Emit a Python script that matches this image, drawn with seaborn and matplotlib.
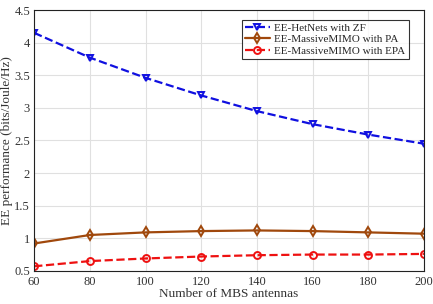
import matplotlib
matplotlib.use("Agg")
import matplotlib.pyplot as plt
import seaborn as sns
import pandas as pd

antennas = [60, 80, 100, 120, 140, 160, 180, 200]
ee_hetnets_zf = [4.15, 3.77, 3.46, 3.19, 2.95, 2.75, 2.59, 2.45]
ee_mimo_pa = [0.92, 1.05, 1.09, 1.11, 1.12, 1.11, 1.09, 1.07]
ee_mimo_epa = [0.57, 0.65, 0.69, 0.72, 0.74, 0.75, 0.75, 0.76]
series_names = ["EE-HetNets with ZF", "EE-MassiveMIMO with PA", "EE-MassiveMIMO with EPA"]

df = pd.DataFrame({
    "N": antennas * 3,
    "EE": ee_hetnets_zf + ee_mimo_pa + ee_mimo_epa,
    "series": [series_names[0]] * 8 + [series_names[1]] * 8 + [series_names[2]] * 8,
})

sns.set_style("whitegrid")
plt.rcParams["font.family"] = ["Liberation Serif", "DejaVu Serif"]

fig = plt.figure(figsize=(4.33, 3.04), dpi=100)
ax = fig.add_axes([0.079, 0.109, 0.900, 0.858])

styles = {
    series_names[0]: dict(color="#1010e0", marker="v", ls="--"),
    series_names[1]: dict(color="#a0480c", marker="d", ls="-"),
    series_names[2]: dict(color="#ee1111", marker="o", ls="--"),
}
for name in series_names:
    st = styles[name]
    sns.lineplot(data=df[df.series == name], x="N", y="EE", ax=ax, label=name,
                 color=st["color"], marker=st["marker"], linestyle=st["ls"],
                 markerfacecolor="none", markeredgecolor=st["color"],
                 markeredgewidth=1.4, markersize=5, linewidth=1.6,
                 dashes=(4, 2.5) if st["ls"] == "--" else "")

ax.set_xlim(60, 200)
ax.set_ylim(0.5, 4.5)
ax.set_xticks(antennas)
ax.set_yticks([0.5, 1, 1.5, 2, 2.5, 3, 3.5, 4, 4.5])
ax.set_yticklabels(["0.5", "1", "1.5", "2", "2.5", "3", "3.5", "4", "4.5"])
ax.grid(True, color="#e0e0e0", linewidth=0.8)
for s in ax.spines.values():
    s.set_color("#222222")
    s.set_linewidth(0.8)
ax.tick_params(labelsize=9, colors="#333333", length=3, direction="in")
ax.tick_params(axis="x", pad=4)
ax.tick_params(axis="y", pad=3)
ax.set_xlabel("Number of MBS antennas", fontsize=9.5, color="#333333", labelpad=0)
ax.set_ylabel("EE performance (bits/Joule/Hz)", fontsize=9.5, color="#333333", labelpad=1)

leg = ax.legend(loc="upper right", fontsize=8, frameon=True, fancybox=False,
                edgecolor="black", borderpad=0.3, labelspacing=0.15,
                handlelength=2.2, handletextpad=0.4, bbox_to_anchor=(0.975, 0.985))
leg.get_frame().set_linewidth(0.8)

fig.savefig("out.png", dpi=100)
